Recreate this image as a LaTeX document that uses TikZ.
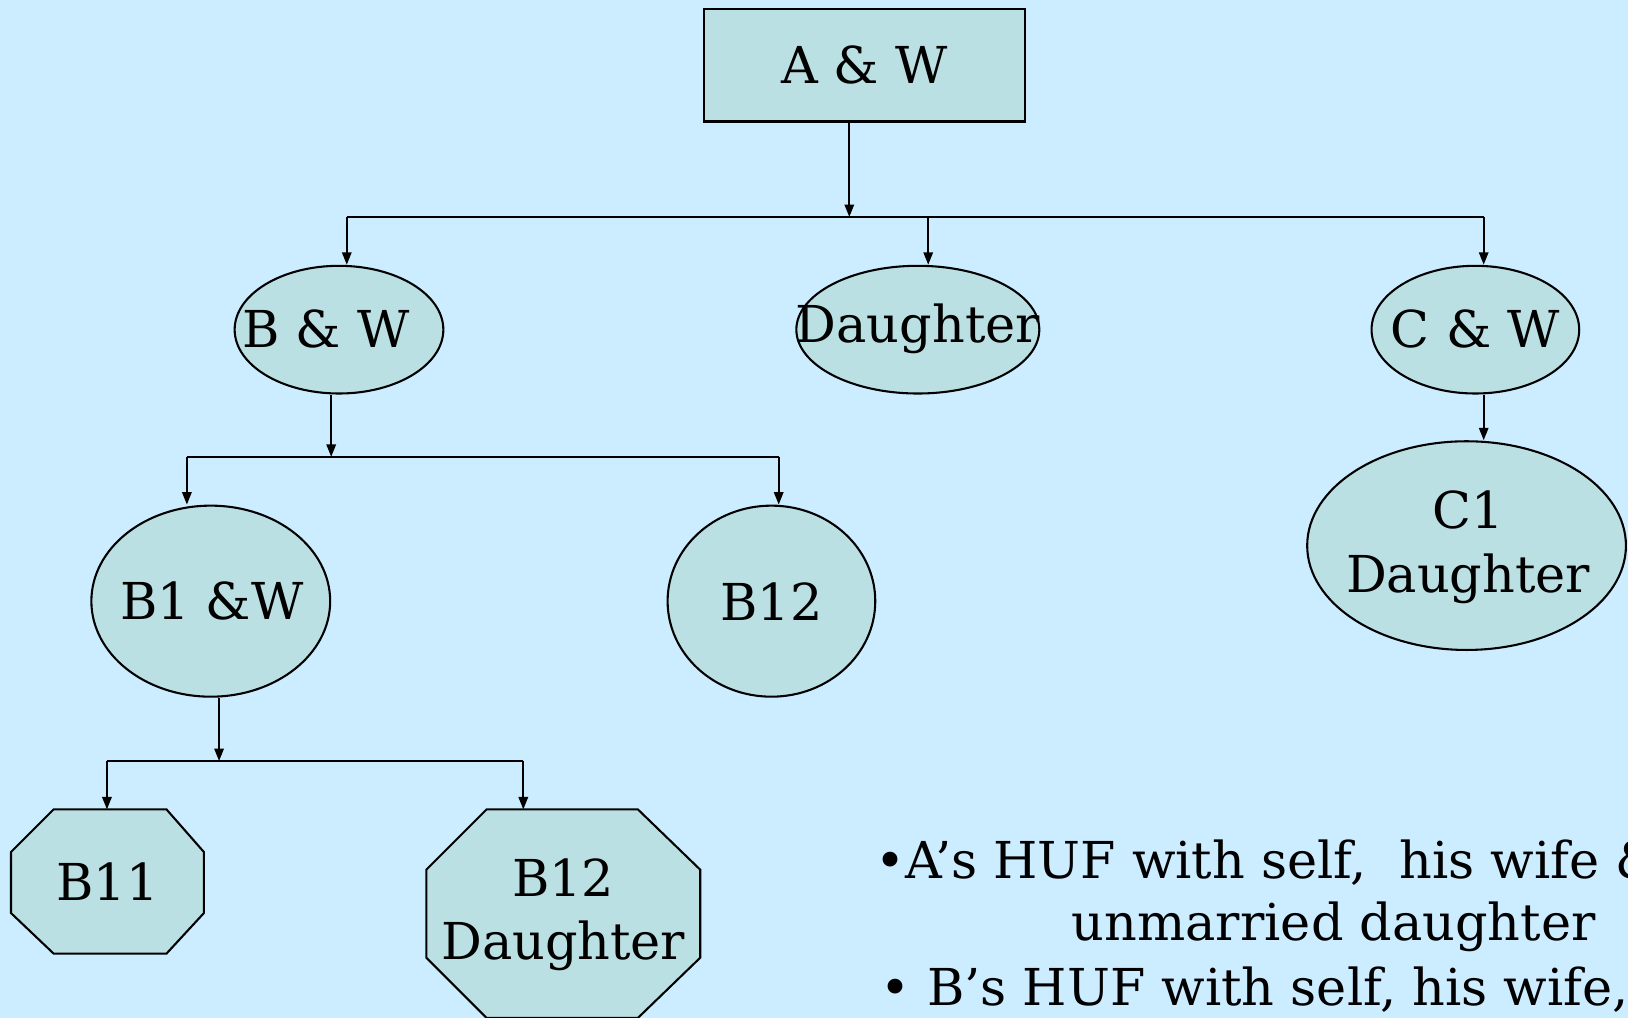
\documentclass[tikz,border=0pt]{standalone}
\usepackage{fontspec}
\setmainfont{DejaVu Serif}
\usetikzlibrary{shapes.geometric,arrows.meta,calc}
\definecolor{bgblue}{RGB}{204,236,255}
\definecolor{nodefill}{RGB}{187,224,227}
\begin{document}
\begin{tikzpicture}[x=0.5pt,y=-0.5pt,
  every node/.style={font=\fontsize{24.5}{30.5}\selectfont},
  member/.style={draw=black,line width=1pt,fill=nodefill,inner sep=0pt},
  oval/.style={member,ellipse},
  frame/.style={inner sep=0pt,draw=none},
  octline/.style={draw=black,line width=1pt,fill=nodefill,line join=miter},
  txt/.style={inner sep=0pt,align=center},
  link/.style={line width=1pt},
  arr/.style={link,-{Triangle[length=6pt,width=4.5pt]}}]
\fill[bgblue] (0,0) rectangle (1568,980);
\useasboundingbox (0,0) rectangle (1568,980);
% shapes
\node[member,rectangle,minimum width=154.5pt,minimum height=54pt] (aw) at (832.5,63) {};
\node[oval,minimum width=100.5pt,minimum height=61.5pt] (bw) at (326.5,317.5) {};
\node[oval,minimum width=117pt,minimum height=61.5pt] (dau) at (884,317.5) {};
\node[oval,minimum width=100pt,minimum height=61.5pt] (cw) at (1421,317.5) {};
\node[oval,minimum width=153.5pt,minimum height=100.5pt] (c1) at (1412.5,525.5) {};
\node[oval,minimum width=115pt,minimum height=92pt] (b1w) at (203,579) {};
\node[oval,minimum width=100pt,minimum height=92pt] (b12) at (743,579) {};
\node[frame,minimum width=92.5pt,minimum height=69pt] (b11) at (103.5,849) {};
\node[frame,minimum width=131.5pt,minimum height=100pt] (b12d) at (542.5,880) {};
% octagons
\path[octline] ($(b11.north west)+(41,0)$) -- ($(b11.north east)+(-36,0)$)
  -- ($(b11.north east)+(0,41)$) -- ($(b11.south east)+(0,-39)$)
  -- ($(b11.south east)+(-36,0)$) -- ($(b11.south west)+(41,0)$)
  -- ($(b11.south west)+(0,-39)$) -- ($(b11.north west)+(0,41)$) -- cycle;
\path[octline] ($(b12d.north west)+(58,0)$) -- ($(b12d.north east)+(-60,0)$)
  -- ($(b12d.north east)+(0,58)$) -- ($(b12d.south east)+(0,-58)$)
  -- ($(b12d.south east)+(-60,0)$) -- ($(b12d.south west)+(58,0)$)
  -- ($(b12d.south west)+(0,-58)$) -- ($(b12d.north west)+(0,58)$) -- cycle;
% texts
\node[txt] (awt) at (aw) {A \& W};
\node[txt] (bwt) at (314,317) {B \& W};
\node[txt] (daut) at (884,317) {Daughter};
\node[txt] (cwt) at (1421,317) {C \& W};
\node[txt] (c1t) at (1414,527) {C1\\Daughter};
\node[txt] (b1wt) at (204,579) {B1 \&W};
\node[txt] (b12t) at (743,579) {B12};
\node[txt] (b11t) at (103.5,849) {B11};
\node[txt] (b12dt) at (542.5,881) {B12\\Daughter};
% junctions
\coordinate (j1) at (818,209);
\coordinate (j1l) at (334,209);
\coordinate (j1m) at (894,209);
\coordinate (j1r) at (1429,209);
\coordinate (j2) at (319,440);
\coordinate (j2l) at (180,440);
\coordinate (j2r) at (750,440);
\coordinate (j3) at (211,733);
\coordinate (j3l) at (103,733);
\coordinate (j3r) at (504,733);
\coordinate (jc) at (1429,379);
% connectors
\draw[arr] (aw.south -| j1) -- (j1);
\draw[link] (j1l) -- (j1r);
\draw[arr] (j1l) -- (j1l |- bw.north);
\draw[arr] (j1m) -- (j1m |- dau.north);
\draw[arr] (j1r) -- (j1r |- cw.north);
\draw[arr] (jc |- cw.south) -- (jc |- c1.north);
\draw[arr] (bw.south -| j2) -- (j2);
\draw[link] (j2l) -- (j2r);
\draw[arr] (j2l) -- (j2l |- b1w.north);
\draw[arr] (j2r) -- (j2r |- b12.north);
\draw[arr] (b1w.south -| j3) -- (j3);
\draw[link] (j3l) -- (j3r);
\draw[arr] (j3l) -- (j3l |- b11.north);
\draw[arr] (j3r) -- (j3r |- b12d.north);
% notes
\node[anchor=base west,inner sep=0pt] (n1) at (843,846) {•A’s HUF with self,\ \ his wife \&};
\node[anchor=base west,inner sep=0pt] (n2) at (1032,906) {unmarried daughter};
\node[anchor=base west,inner sep=0pt] (n3) at (848,968) {• B’s HUF with self, his wife,};
\end{tikzpicture}
\end{document}
